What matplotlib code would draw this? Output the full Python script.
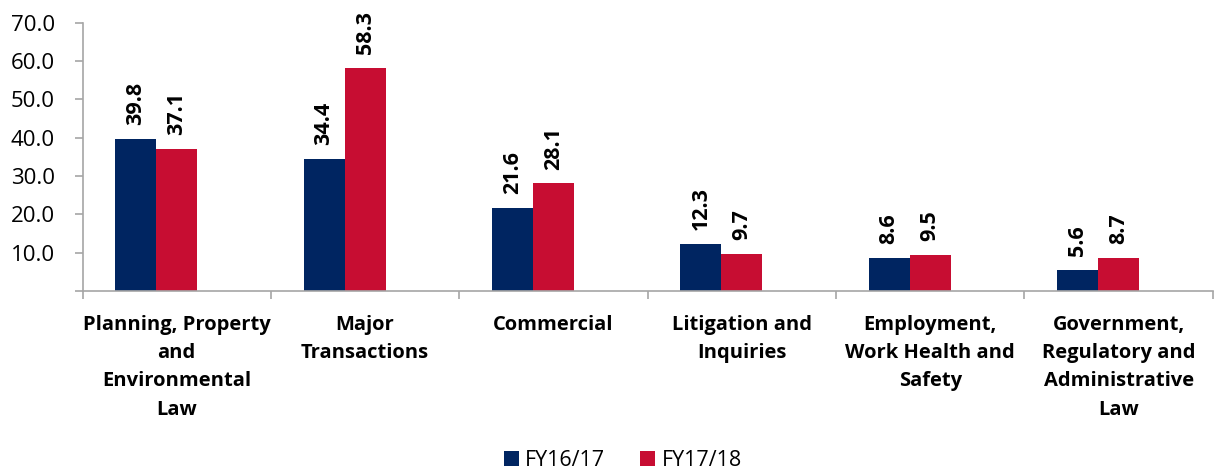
import numpy as np
import matplotlib.pyplot as plt

# Data
categories = ["Planning, Property\nand\nEnvironmental\nLaw",
              "Major\nTransactions",
              "Commercial",
              "Litigation and\nInquiries",
              "Employment,\nWork Health and\nSafety",
              "Government,\nRegulatory and\nAdministrative\nLaw"]
fy1617 = [39.8, 34.4, 21.6, 12.3, 8.6, 5.6]
fy1718 = [37.1, 58.3, 28.1, 9.7, 9.5, 8.7]
series_names = ["FY16/17", "FY17/18"]
yticks = [10, 20, 30, 40, 50, 60, 70]

navy = '#002561'
red = '#C70D32'
grey = '#A6A6A6'

plt.rcParams['font.family'] = ['Open Sans', 'DejaVu Sans']

fig = plt.figure(figsize=(12.14, 4.75), dpi=100)
ax = fig.add_axes([0.068, 0.387, 0.931, 0.565])

x = np.arange(len(categories))
w = 0.218
b1 = ax.bar(x - w, fy1617, w, color=navy, label=series_names[0])
b2 = ax.bar(x, fy1718, w, color=red, label=series_names[1])

# value labels above bars
for bars, vals in [(b1, fy1617), (b2, fy1718)]:
    for rect, v in zip(bars, vals):
        ax.annotate('{:.1f}'.format(v), (rect.get_x() + rect.get_width() / 2, v),
                    xytext=(0, 10), textcoords='offset points', rotation=90,
                    ha='center', va='bottom', fontsize=15.5, fontweight='bold')

ax.set_xlim(-0.5, len(categories) - 0.5)
ax.set_ylim(0, 70)
ax.set_yticks([0] + yticks)
ax.set_yticklabels([''] + ['{:.1f}'.format(t) for t in yticks], fontsize=16)

# category labels centred, ticks at boundaries
ax.set_xticks(np.arange(len(categories) + 1) - 0.5)
ax.set_xticklabels([])
ax.set_xticks(x, minor=True)
ax.set_xticklabels(categories, minor=True, fontsize=14.5, fontweight='bold',
                   linespacing=1.55, va='top')
ax.tick_params(axis='x', which='minor', length=0, pad=17)
ax.tick_params(axis='x', which='major', length=6, color=grey, width=1.2)
ax.tick_params(axis='y', length=6, color=grey, width=1.2, pad=14)

for s in ['top', 'right']:
    ax.spines[s].set_visible(False)
for s in ['left', 'bottom']:
    ax.spines[s].set_color(grey)
    ax.spines[s].set_linewidth(1.2)

fig.legend(loc='lower center', bbox_to_anchor=(0.513, -0.032), ncol=2, frameon=False,
           fontsize=15.5, handlelength=0.7, handleheight=0.7, handletextpad=0.3,
           columnspacing=1.6)

plt.savefig('out.png', dpi=100)
